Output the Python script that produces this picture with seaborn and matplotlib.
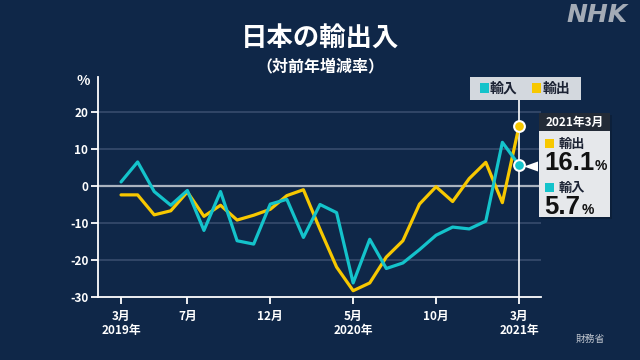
import matplotlib
matplotlib.use("Agg")
import matplotlib.pyplot as plt
import numpy as np
import pandas as pd
import seaborn as sns
from matplotlib.patches import Rectangle, Polygon

# ---- data ----
months = ["2019-03", "2019-04", "2019-05", "2019-06", "2019-07", "2019-08", "2019-09",
          "2019-10", "2019-11", "2019-12", "2020-01", "2020-02", "2020-03", "2020-04",
          "2020-05", "2020-06", "2020-07", "2020-08", "2020-09", "2020-10", "2020-11",
          "2020-12", "2021-01", "2021-02", "2021-03"]
exports = [-2.4, -2.4, -7.8, -6.7, -1.6, -8.2, -5.2, -9.2, -7.9, -6.3, -2.6, -1.0, -11.7,
           -21.9, -28.3, -26.2, -19.2, -14.8, -4.9, -0.2, -4.2, 2.0, 6.4, -4.5, 16.1]
imports = [1.1, 6.5, -1.5, -5.2, -1.2, -12.0, -1.5, -14.8, -15.7, -4.9, -3.6, -13.9, -5.0,
           -7.2, -26.2, -14.4, -22.3, -20.8, -17.2, -13.3, -11.1, -11.6, -9.5, 11.8, 5.7]
tick_idx = [0, 4, 9, 14, 19, 24]
tick_labels = ["3月\n2019年", "7月", "12月", "5月\n2020年", "10月", "3月\n2021年"]
yticks = [-30, -20, -10, 0, 10, 20]
series_names = ["輸出", "輸入"]

BG = "#0f2748"
TEAL = "#14c3cb"
YELLOW = "#f7c800"
GRID = "#34496a"

sns.set_style("dark", {"axes.facecolor": BG, "figure.facecolor": BG})
plt.rcParams["font.family"] = ["Noto Sans CJK JP", "DejaVu Sans"]
plt.rcParams["axes.unicode_minus"] = False

fig = plt.figure(figsize=(6.4, 3.6), dpi=100)
fig.patch.set_facecolor(BG)

W, H = 640, 360
ax = fig.add_axes([98 / W, (H - 297) / H, 443 / W, 220 / H])
ax.set_facecolor(BG)

idx = np.arange(len(months))
df = pd.DataFrame({
    "idx": np.concatenate([idx, idx]),
    "value": exports + imports,
    "series": ["輸出"] * len(months) + ["輸入"] * len(months),
})

ax.set_xlim(-1.39, 25.33)
ax.set_ylim(-30, 29.46)

# grid lines
for yv in yticks[1:]:
    if yv == 0:
        ax.axhline(yv, color="#aab3bf", lw=1.6, zorder=1)
    else:
        ax.axhline(yv, color=GRID, lw=1.3, zorder=1)

# vertical cursor line
ax.axvline(24, ymin=0, ymax=(297 - 92) / 220, color="white", lw=1.2, zorder=2)

sns.lineplot(data=df, x="idx", y="value", hue="series", hue_order=["輸出", "輸入"],
             palette={"輸出": YELLOW, "輸入": TEAL}, linewidth=2.3, legend=False,
             ax=ax, zorder=3)

ax.scatter([idx[-1]], [exports[-1]], s=60, color=YELLOW, edgecolor="white", linewidth=1.5, zorder=5)
ax.scatter([idx[-1]], [imports[-1]], s=60, color=TEAL, edgecolor="white", linewidth=1.5, zorder=5)

for side in ["top", "right"]:
    ax.spines[side].set_visible(False)
for side in ["left", "bottom"]:
    ax.spines[side].set_visible(True)
    ax.spines[side].set_color("white")
    ax.spines[side].set_linewidth(1.3)

ax.set_yticks(yticks)
ax.set_yticklabels([str(v) for v in yticks])
ax.set_xticks(tick_idx)
ax.set_xticklabels(tick_labels, linespacing=1.15)
ax.tick_params(axis="y", colors="white", length=5, width=1.3, pad=2, labelsize=8.5, left=True)
ax.tick_params(axis="x", colors="white", length=5, width=1.3, pad=4, labelsize=8.5, bottom=True)
for lab in ax.get_xticklabels() + ax.get_yticklabels():
    lab.set_fontweight("bold")
    lab.set_color("white")
ax.set_xlabel("")
ax.set_ylabel("")
ax.grid(False)

# ---- overlay in pixel coordinates ----
ov = fig.add_axes([0, 0, 1, 1], facecolor="none")
ov.set_xlim(0, W)
ov.set_ylim(H, 0)
ov.axis("off")

# titles
fig.text(320 / W, 1 - 39 / H, "日本の輸出入", ha="center", va="center", color="white",
         fontsize=19, fontweight="bold")
fig.text(320 / W, 1 - 66 / H, "（対前年増減率）", ha="center", va="center", color="white",
         fontsize=11.5, fontweight="bold")
fig.text(83 / W, 1 - 81 / H, "%", ha="center", va="center", color="white",
         fontsize=10, fontweight="bold")
fig.text(597 / W, 1 - 15 / H, "NHK", ha="center", va="center", color="#a3abb6",
         fontsize=18, fontweight="bold", style="italic", family="DejaVu Sans")
fig.text(590 / W, 1 - 339 / H, "財務省", ha="center", va="center", color="#c0c6cf",
         fontsize=7)

# legend box
ov.add_patch(Rectangle((470, 77), 111, 23, facecolor="#d3d8de", edgecolor="none", zorder=5))
ov.add_patch(Rectangle((480, 83), 9, 10, facecolor=TEAL, edgecolor="none", zorder=6))
ov.text(490, 88.5, series_names[1], ha="left", va="center", color="#1b2233",
        fontsize=10, fontweight="bold", zorder=6)
ov.add_patch(Rectangle((532, 83), 9, 10, facecolor=YELLOW, edgecolor="none", zorder=6))
ov.text(543, 88.5, series_names[0], ha="left", va="center", color="#1b2233",
        fontsize=10, fontweight="bold", zorder=6)

# tooltip
ov.add_patch(Rectangle((541, 115), 71, 104, facecolor="#0a1a30", edgecolor="none", alpha=0.5, zorder=5))
ov.add_patch(Rectangle((539, 113), 71, 19, facecolor="#232b37", edgecolor="none", zorder=6))
ov.add_patch(Rectangle((539, 131), 71, 86, facecolor="#e6e8eb", edgecolor="none", zorder=6))
ov.text(574.5, 122.5, months[-1][:4] + "年" + str(int(months[-1][5:])) + "月", ha="center",
        va="center", color="white", fontsize=8.5, fontweight="bold", zorder=7)
ov.add_patch(Polygon([(524, 166.5), (538, 161.5), (538, 171.5)], closed=True,
                     facecolor="white", edgecolor="none", zorder=6))
ov.add_patch(Rectangle((545, 139), 9, 9, facecolor=YELLOW, edgecolor="none", zorder=7))
ov.text(559, 144, series_names[0], ha="left", va="center", color="#1b2233",
        fontsize=9.5, fontweight="bold", zorder=7)
ov.text(544, 163, f"{exports[-1]:.1f}", ha="left", va="center", color="#111111",
        fontsize=18.5, fontweight="bold", family="Liberation Sans", zorder=7)
ov.text(595, 166.5, "%", ha="left", va="center", color="#111111",
        fontsize=10, fontweight="bold", family="Liberation Sans", zorder=7)
ov.add_patch(Rectangle((545, 183), 9, 9, facecolor=TEAL, edgecolor="none", zorder=7))
ov.text(559, 188, series_names[1], ha="left", va="center", color="#1b2233",
        fontsize=9.5, fontweight="bold", zorder=7)
ov.text(544, 207, f"{imports[-1]:.1f}", ha="left", va="center", color="#111111",
        fontsize=18.5, fontweight="bold", family="Liberation Sans", zorder=7)
ov.text(582, 210.5, "%", ha="left", va="center", color="#111111",
        fontsize=10, fontweight="bold", family="Liberation Sans", zorder=7)

fig.savefig("out.png", dpi=100, facecolor=BG)
